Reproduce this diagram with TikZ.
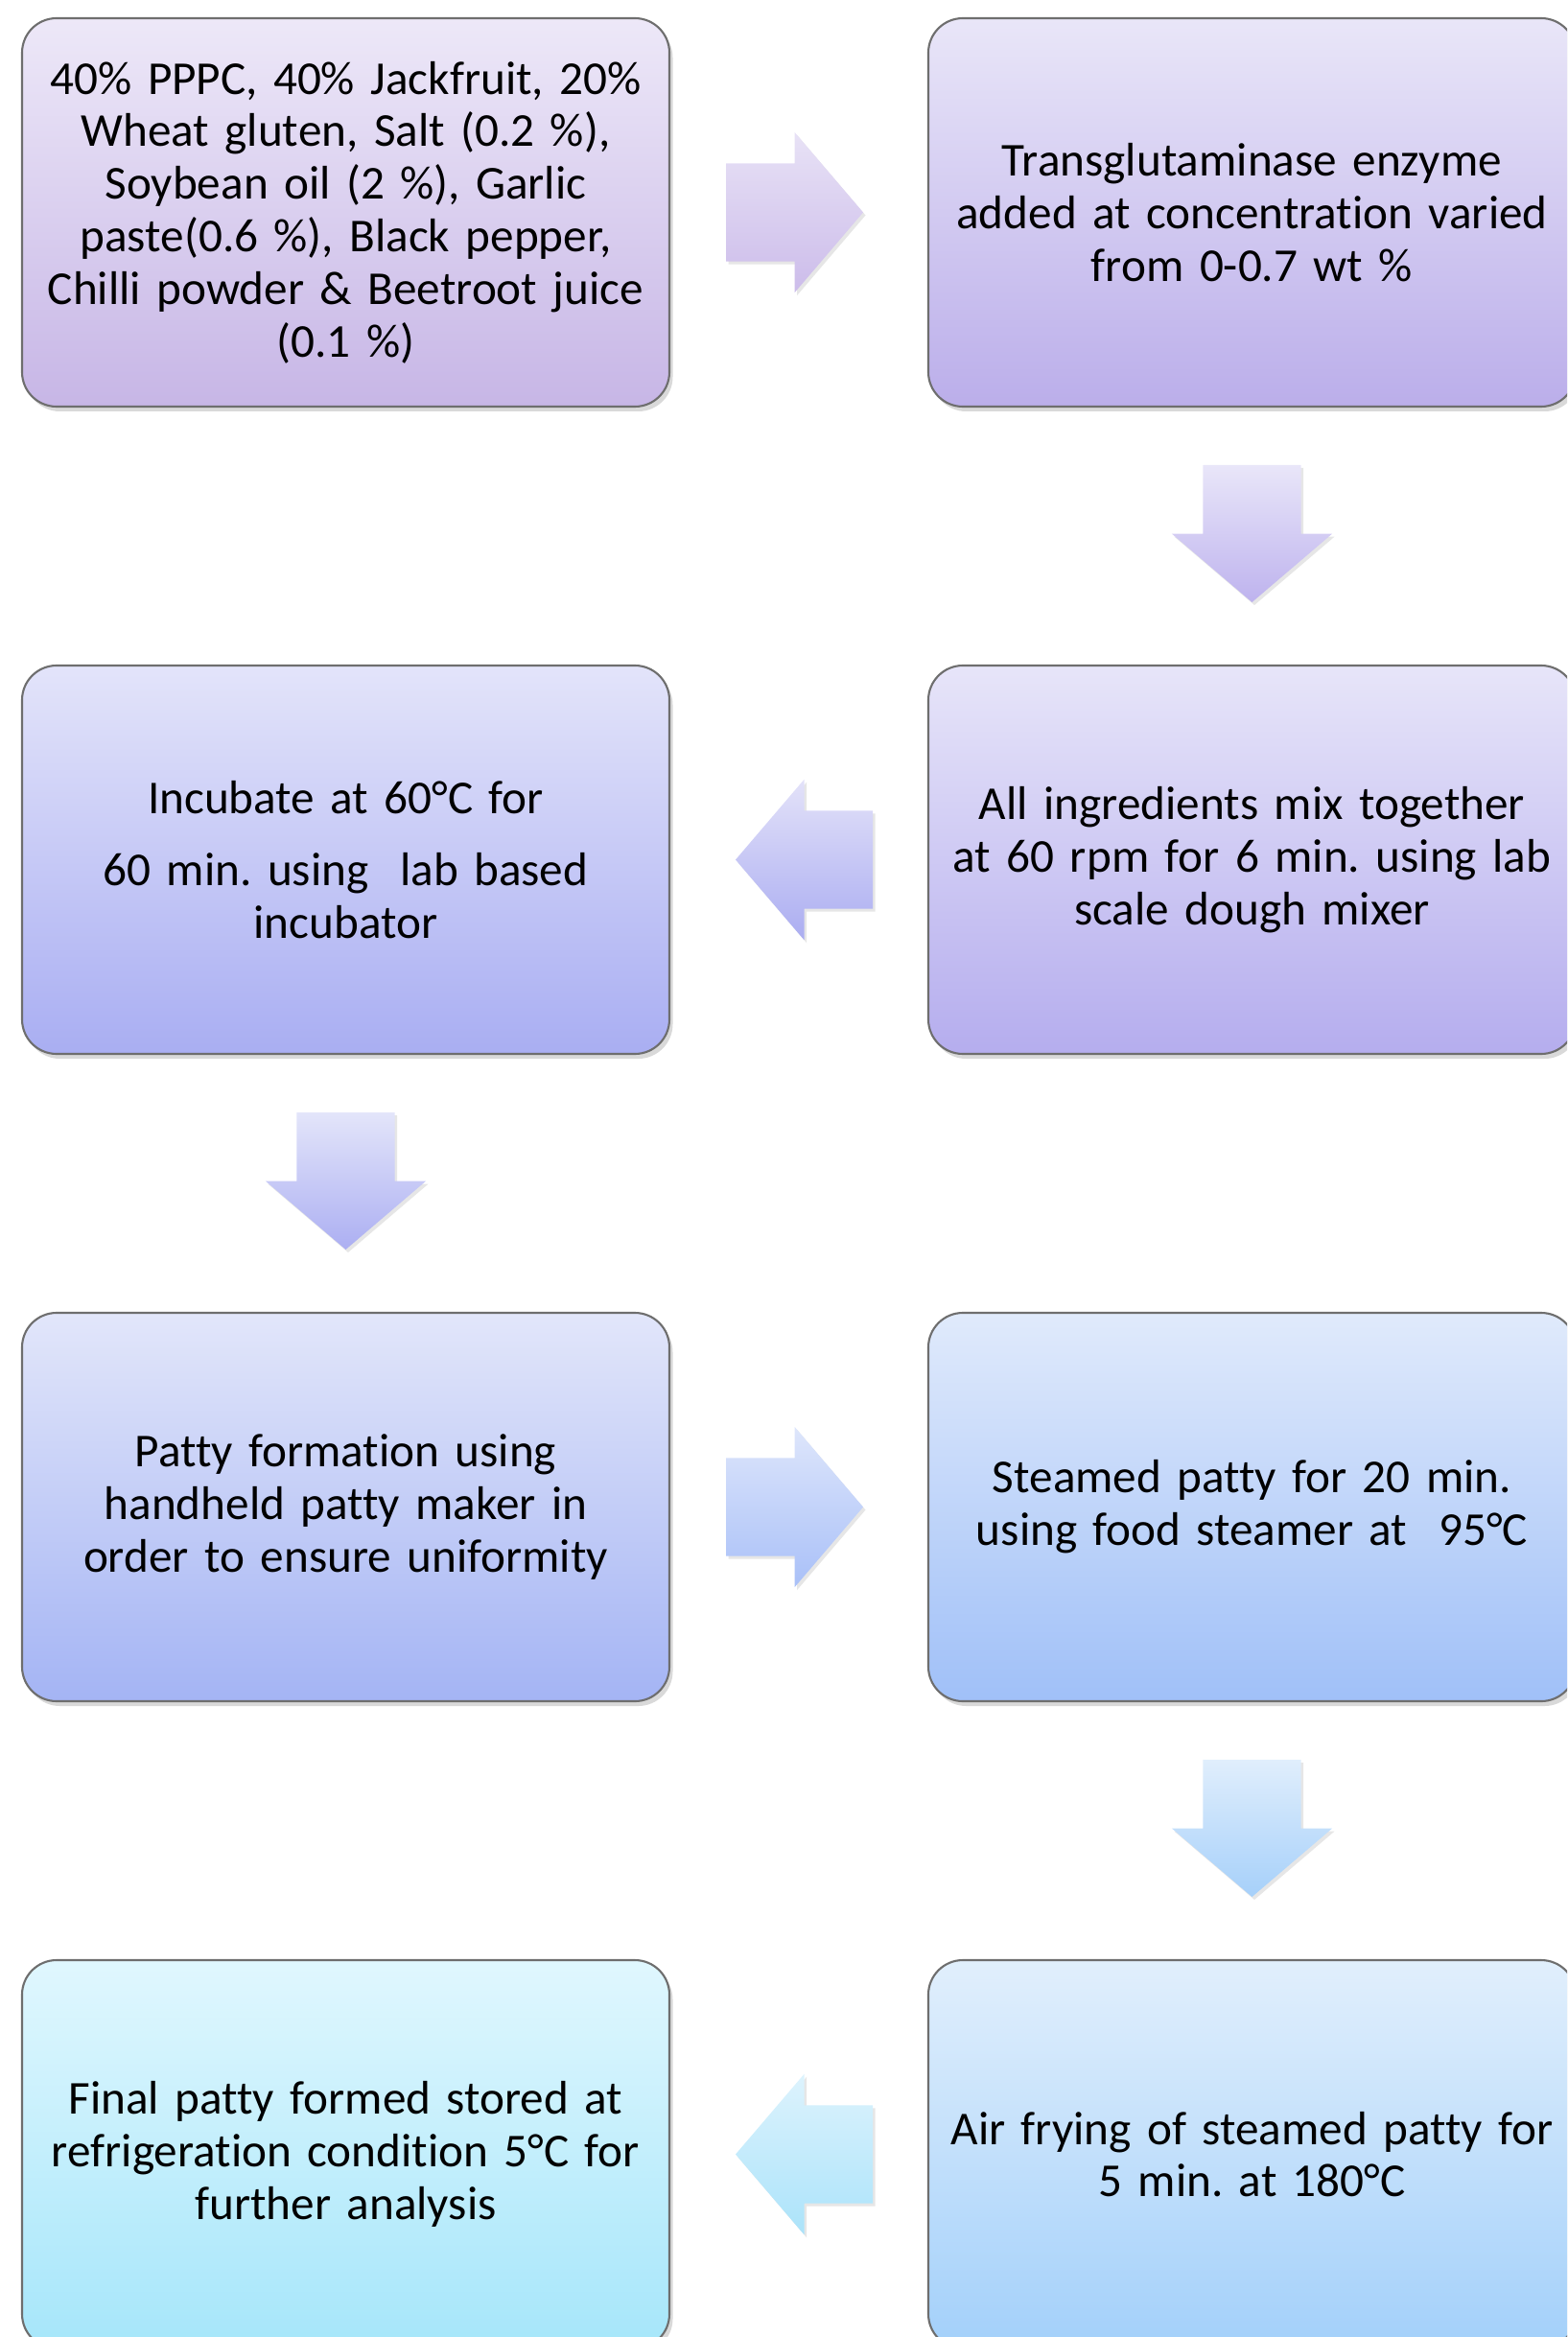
\documentclass[tikz,border=0pt]{standalone}
\usepackage{fontspec}
\setmainfont{Carlito}[Ligatures=NoCommon]
\frenchspacing
\usetikzlibrary{shapes}
\usetikzlibrary{shapes.arrows}
\usetikzlibrary{shadows}
\usetikzlibrary{positioning}
\usetikzlibrary{calc}
\definecolor{boxline}{HTML}{6E6E6E}
\tikzset{
	pbox/.style = {rectangle, rounded corners=0.36cm, draw=boxline, line width=0.6pt,
		minimum width=6.75cm, minimum height=4.05cm, text width=6.6cm, align=center,
		inner sep=0pt, outer sep=0pt, font=\fontsize{14}{15.6}\selectfont,
		drop shadow={shadow xshift=0.035cm, shadow yshift=-0.05cm, opacity=0.3}},% process box
	barrow/.style = {single arrow, outer sep=0pt, draw=none, anchor=tail,
		minimum height=1.43cm, single arrow head extend=0.325cm,
		single arrow tip angle=99,
		drop shadow={shadow xshift=0.025cm, shadow yshift=-0.03cm, opacity=0.2}},% block arrow
	rgt/.style = {shape border rotate=0, inner xsep=0pt, inner ysep=0.505cm},
	dwn/.style = {shape border rotate=270, inner xsep=0.505cm, inner ysep=0pt},
	lft/.style = {shape border rotate=180, inner xsep=0pt, inner ysep=0.505cm},
	% gradients, boxes
	sh_c1/.style = {top color={rgb,255:red,237;green,232;blue,248}, bottom color={rgb,255:red,199;green,182;blue,230}},
	sh_c2/.style = {top color={rgb,255:red,233;green,230;blue,248}, bottom color={rgb,255:red,187;green,174;blue,234}},
	sh_c3/.style = {top color={rgb,255:red,227;green,228;blue,250}, bottom color={rgb,255:red,169;green,174;blue,242}},
	sh_c4/.style = {top color={rgb,255:red,231;green,229;blue,249}, bottom color={rgb,255:red,181;green,173;blue,238}},
	sh_c5/.style = {top color={rgb,255:red,226;green,230;blue,250}, bottom color={rgb,255:red,164;green,180;blue,244}},
	sh_c6/.style = {top color={rgb,255:red,224;green,234;blue,251}, bottom color={rgb,255:red,160;green,192;blue,248}},
	sh_c7/.style = {top color={rgb,255:red,224;green,247;blue,254}, bottom color={rgb,255:red,166;green,230;blue,250}},
	sh_c8/.style = {top color={rgb,255:red,225;green,239;blue,252}, bottom color={rgb,255:red,163;green,208;blue,250}},
	% gradients, arrows
	sh_a1/.style = {top color={rgb,255:red,232;green,226;blue,246}, bottom color={rgb,255:red,204;green,188;blue,234}},
	sh_a2/.style = {top color={rgb,255:red,233;green,230;blue,249}, bottom color={rgb,255:red,190;green,179;blue,238}},
	sh_a3/.style = {top color={rgb,255:red,227;green,226;blue,249}, bottom color={rgb,255:red,171;green,173;blue,241}},
	sh_a4/.style = {top color={rgb,255:red,227;green,229;blue,250}, bottom color={rgb,255:red,172;green,175;blue,242}},
	sh_a5/.style = {top color={rgb,255:red,222;green,230;blue,251}, bottom color={rgb,255:red,169;green,192;blue,248}},
	sh_a6/.style = {top color={rgb,255:red,224;green,238;blue,252}, bottom color={rgb,255:red,166;green,208;blue,250}},
	sh_a7/.style = {top color={rgb,255:red,221;green,243;blue,253}, bottom color={rgb,255:red,171;green,227;blue,250}}
}

\begin{document}
\begin{tikzpicture}
	\useasboundingbox (0,0) rectangle (16.34,-24.37);
	\clip (0,0) rectangle (16.34,-24.37);
	% process boxes
	\node[pbox, sh_c1] (ingr) at (3.605,-2.215) {40\% PPPC, 40\% Jackfruit, 20\%\\ Wheat gluten, Salt (0.2 \%),\\ Soybean oil (2 \%), Garlic\\ paste(0.6 \%), Black pepper,\\ Chilli powder \& Beetroot juice\\ (0.1 \%)};
	\node[pbox, sh_c2, right=2.7cm of ingr] (enz) {Transglutaminase enzyme\\ added at concentration varied\\ from 0-0.7 wt \%};
	\node[pbox, sh_c4, below=2.7cm of enz] (mix) {All ingredients mix together\\ at 60 rpm for 6 min. using lab\\ scale dough mixer};
	\node[pbox, sh_c3, left=2.7cm of mix] (inc) {Incubate at 60°C for\\[0.2cm] 60 min. using~ lab based\\ incubator};
	\node[pbox, sh_c5, below=2.7cm of inc] (form) {Patty formation using\\ handheld patty maker in\\ order to ensure uniformity};
	\node[pbox, sh_c6, right=2.7cm of form] (steam) {Steamed patty for 20 min.\\ using food steamer at~ 95°C};
	\node[pbox, sh_c8, below=2.7cm of steam] (fry) {Air frying of steamed patty for\\ 5 min. at 180°C};
	\node[pbox, sh_c7, left=2.7cm of fry] (store) {Final patty formed stored at\\ refrigeration condition 5°C for\\ further analysis};
	% block arrows
	\node[barrow, rgt, sh_a1] (ar1) at ($(ingr.east)+(0.59,0)$) {};
	\node[barrow, dwn, sh_a2] (ar2) at ($(enz.south)+(0,-0.61)$) {};
	\node[barrow, lft, sh_a3] (ar3) at ($(mix.west)+(-0.58,0)$) {};
	\node[barrow, dwn, sh_a4] (ar4) at ($(inc.south)+(0,-0.61)$) {};
	\node[barrow, rgt, sh_a5] (ar5) at ($(form.east)+(0.59,0)$) {};
	\node[barrow, dwn, sh_a6] (ar6) at ($(steam.south)+(0,-0.61)$) {};
	\node[barrow, lft, sh_a7] (ar7) at ($(fry.west)+(-0.58,0)$) {};
\end{tikzpicture}
\end{document}
